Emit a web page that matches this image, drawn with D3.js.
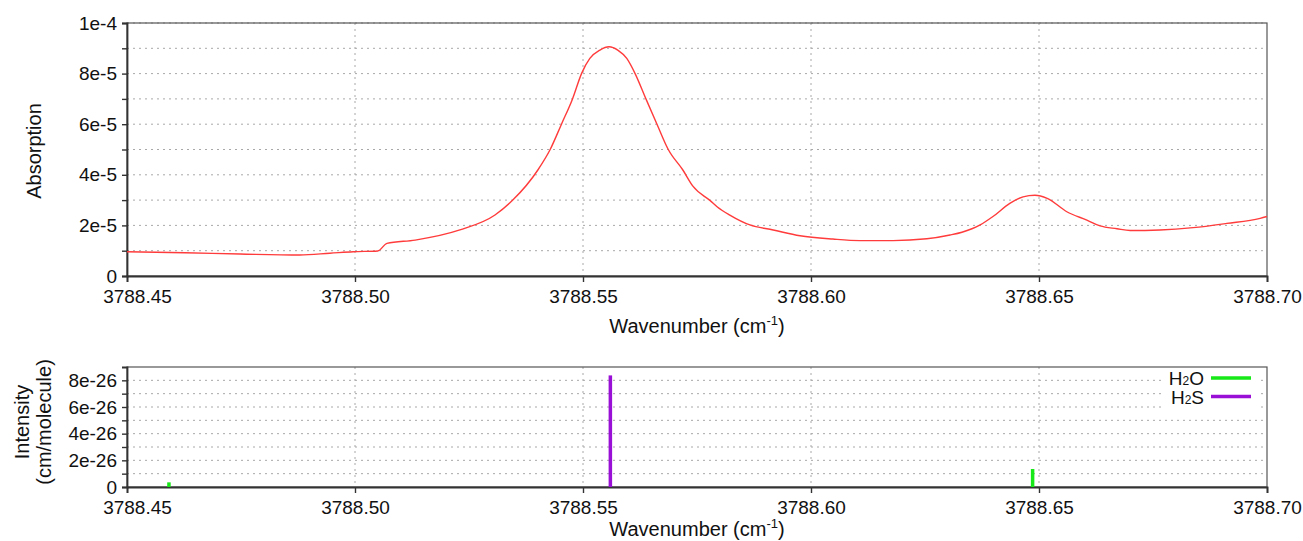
<!DOCTYPE html>
<html>
<head>
<meta charset="utf-8">
<script src="https://cdn.jsdelivr.net/npm/d3@7"></script>
<style>
  body { margin: 0; background: #fff; }
  text { font-family: "Liberation Sans", Arial, sans-serif; fill: #111; }
</style>
</head>
<body>
<div id="chart"></div>
<script>
// Absorption spectrum
const wavenumber = [
  3788.4500, 3788.4627, 3788.4748, 3788.4879, 3788.4945, 3788.4996, 3788.5050, 3788.5070,
  3788.5132, 3788.5230, 3788.5307, 3788.5346, 3788.5401, 3788.5428, 3788.5453, 3788.5477,
  3788.5497, 3788.5515, 3788.5537, 3788.5557, 3788.5577, 3788.5596, 3788.5614, 3788.5638,
  3788.5662, 3788.5687, 3788.5719, 3788.5741, 3788.5779, 3788.5794, 3788.5822, 3788.5866,
  3788.5917, 3788.5976, 3788.6048, 3788.6107, 3788.6180, 3788.6254, 3788.6305, 3788.6331,
  3788.6371, 3788.6399, 3788.6436, 3788.6465, 3788.6491, 3788.6518, 3788.6561, 3788.6605,
  3788.6634, 3788.6671, 3788.6700, 3788.6765, 3788.6838, 3788.6912, 3788.6985, 3788.7000
];
const absorption = [
  0.96, 0.92, 0.87, 0.83, 0.90, 0.96, 0.99, 1.29,
  1.42, 1.82, 2.41, 3.00, 4.19, 5.00, 6.01, 7.00,
  8.01, 8.60, 8.93, 9.06, 8.92, 8.60, 8.01, 7.00,
  6.01, 5.00, 4.19, 3.55, 2.98, 2.74, 2.41, 2.02,
  1.82, 1.59, 1.46, 1.40, 1.40, 1.47, 1.62, 1.73,
  2.02, 2.35, 2.87, 3.13, 3.19, 3.07, 2.54, 2.21,
  1.98, 1.87, 1.80, 1.82, 1.91, 2.08, 2.28, 2.35
].map(v => v * 1e-5);

// line list (stick spectrum)
const lineSpecies = ["H2O", "H2S", "H2O"];
const lineWavenumber = [3788.4592, 3788.5560, 3788.6486];
const lineIntensity = [0.35e-26, 8.37e-26, 1.35e-26];

const species = ["H2O", "H2S"];
const speciesColor = { H2O: "#17e817", H2S: "#9a0fd6" };

const xTicks = [3788.45, 3788.50, 3788.55, 3788.60, 3788.65, 3788.70];
const yTopTicks = [0, 2e-5, 4e-5, 6e-5, 8e-5, 1e-4];
const yTopMinor = [1e-5, 3e-5, 5e-5, 7e-5, 9e-5];
const yBotTicks = [0, 2e-26, 4e-26, 6e-26, 8e-26];
const yBotMinor = [1e-26, 3e-26, 5e-26, 7e-26];

const W = 1303, H = 541;
const L = 127, R = 1267;

function expFmt(v) {
  if (v === 0) return "0";
  const e = Math.floor(Math.log10(v) + 1e-9);
  const m = Math.round(v / Math.pow(10, e));
  return m + "e" + e;
}

const svg = d3.select("#chart").append("svg")
  .attr("width", W).attr("height", H);

function panel(yDomain, y0, y1, major, minor) {
  const x = d3.scaleLinear().domain([3788.45, 3788.70]).range([L, R]);
  const y = d3.scaleLinear().domain(yDomain).range([y1, y0]);
  const g = svg.append("g");

  // grid
  g.selectAll(".hg").data(major.concat(minor).filter(v => v > 0))
    .enter().append("line")
      .attr("x1", L).attr("x2", R)
      .attr("y1", d => y(d)).attr("y2", d => y(d))
      .attr("stroke", "#a8a8a8").attr("stroke-dasharray", "2,4");
  g.selectAll(".vg").data(xTicks.slice(1, -1))
    .enter().append("line")
      .attr("x1", d => x(d)).attr("x2", d => x(d))
      .attr("y1", y0).attr("y2", y1)
      .attr("stroke", "#a8a8a8").attr("stroke-dasharray", "2,4");

  // frame
  g.append("rect").attr("x", L).attr("y", y0).attr("width", R - L).attr("height", y1 - y0)
    .attr("fill", "none").attr("stroke", "#555").attr("stroke-width", 1.2);

  // axes
  const xAxis = g.append("g").attr("transform", `translate(0,${y1})`)
    .call(d3.axisBottom(x).tickValues(xTicks).tickFormat(d3.format(".2f")).tickSize(6).tickPadding(8));
  const yAxis = g.append("g").attr("transform", `translate(${L},0)`)
    .call(d3.axisLeft(y).tickValues(major.concat(minor).sort((a, b) => a - b))
      .tickFormat(d => major.includes(d) ? expFmt(d) : "").tickSize(5).tickPadding(5));
  [xAxis, yAxis].forEach(a => {
    a.select(".domain").attr("stroke", "#333").attr("stroke-width", 1.8);
    a.selectAll(".tick line").attr("stroke", "#333").attr("stroke-width", 1.4);
    a.selectAll("text").style("font-size", "19px").attr("fill", "#111");
  });
  xAxis.selectAll(".tick text").filter(d => d === 3788.45).attr("dx", 10);
  return { x, y, g };
}

function xLabel(yPos) {
  const t = svg.append("text").attr("x", 697).attr("y", yPos)
    .attr("text-anchor", "middle").style("font-size", "20px");
  t.append("tspan").text("Wavenumber (cm");
  t.append("tspan").text("-1").style("font-size", "13px").attr("dy", -8);
  t.append("tspan").text(")").attr("dy", 8);
}

// --- top panel: absorption
const absPanel = panel([0, 1e-4], 23, 276, yTopTicks, yTopMinor);
absPanel.g.append("path")
  .datum(d3.zip(wavenumber, absorption))
  .attr("fill", "none").attr("stroke", "#ff3b3b").attr("stroke-width", 1.4)
  .attr("d", d3.line().curve(d3.curveMonotoneX)
    .x(d => absPanel.x(d[0])).y(d => absPanel.y(d[1])));
xLabel(333);
svg.append("text").attr("transform", "translate(41,151) rotate(-90)")
  .attr("text-anchor", "middle").style("font-size", "20px").text("Absorption");

// --- bottom panel: line intensities
const intPanel = panel([0, 9e-26], 367, 487, yBotTicks, yBotMinor);
intPanel.g.selectAll(".stick").data(d3.range(lineWavenumber.length))
  .enter().append("line")
    .attr("x1", i => intPanel.x(lineWavenumber[i])).attr("x2", i => intPanel.x(lineWavenumber[i]))
    .attr("y1", intPanel.y(0)).attr("y2", i => intPanel.y(lineIntensity[i]))
    .attr("stroke", i => speciesColor[lineSpecies[i]]).attr("stroke-width", 3.5);
xLabel(536);
const yl = svg.append("text").attr("transform", "translate(29,422) rotate(-90)")
  .attr("text-anchor", "middle").style("font-size", "20px");
yl.append("tspan").attr("x", 0).attr("dy", 0).text("Intensity");
yl.append("tspan").attr("x", 0).attr("dy", 22).text("(cm/molecule)");

// legend
const leg = svg.append("g");
leg.append("rect").attr("x", 1163).attr("y", 368).attr("width", 95).attr("height", 40).attr("fill", "#fff");
species.forEach((s, i) => {
  const yy = 378 + i * 18.5;
  const t = leg.append("text").attr("x", 1204).attr("y", yy + 7)
    .attr("text-anchor", "end").style("font-size", "19px");
  t.append("tspan").text("H");
  t.append("tspan").text("2").style("font-size", "12px");
  t.append("tspan").text(s.slice(2));
  leg.append("line").attr("x1", 1211).attr("x2", 1251).attr("y1", yy).attr("y2", yy)
    .attr("stroke", speciesColor[s]).attr("stroke-width", 3.5);
});
</script>
</body>
</html>
